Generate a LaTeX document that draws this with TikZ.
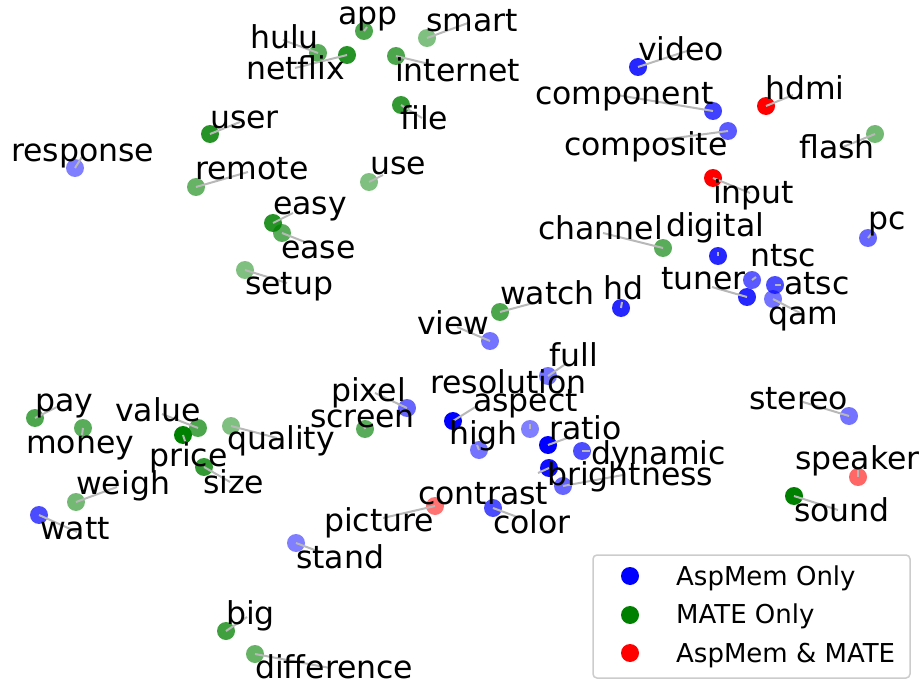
\documentclass[tikz,border=0pt]{standalone}
\usepackage{fontspec}
\setmainfont{DejaVu Sans}
\definecolor{B}{RGB}{0,0,255}
\definecolor{G}{RGB}{0,128,0}
\definecolor{R}{RGB}{255,0,0}
\pgfdeclarelayer{bg}
\pgfsetlayers{bg,main}
\tikzset{
  dot/.style={circle, inner sep=0pt, minimum size=18pt, draw=none},
  lbl/.style={anchor=base west, inner sep=0pt, xshift=-2pt, yshift=-1.5pt, font=\fontsize{31.5}{36}\selectfont},
  conn/.style={draw=black!28, line width=2pt},
  legbox/.style={draw=black!20, line width=1.5pt, rounded corners=4pt, fill=white, inner sep=0pt},
  legtext/.style={anchor=base west, inner sep=0pt, font=\fontsize{26}{30}\selectfont},
}
% name / dot x / dot y / colour / opacity / text x / text y / line end x / line end y
\def\pts{response/75/168/B/.5/13/160/82/157,
hulu/318/53/G/.65/252/47/283/40,
netflix/347/55/G/.85/248/78/295/68,
app/364/31/G/.7/340/23/367/27,
smart/427/38/G/.5/428/30/468/23,
internet/396/56/G/.7/397/80/433/65,
file/401/105/G/.8/402/128/422/118,
user/210/134/G/.85/212/127/240/122,
remote/196/187/G/.6/197/178/248/172,
use/369/182/G/.5/372/173/383/175,
easy/273/223/G/.85/275/213/293/213,
ease/282/233/G/.65/283/257/305/242,
setup/245/270/G/.5/247/293/287/283,
video/638/67/B/.85/640/59/690/50,
component/713/111/B/.75/537/103/617/95,
composite/728/131/B/.65/566/154/660/140,
hdmi/766/106/R/1/767/98/793/95,
flash/875/134/G/.55/801/157/843/147,
input/713/178/R/1/715/202/750/193,
pc/868/238/B/.6/870/228/872/233,
channel/663/248/G/.65/540/238/603/233,
digital/718/256/B/.85/668/235/718/252,
ntsc/752/280/B/.65/752/265/756/277,
atsc/775/285/B/.7/786/293/781/285,
tuner/747/297/B/.85/663/288/712/287,
qam/773/299/B/.55/770/323/800/313,
watch/500/312/G/.7/502/303/537/302,
hd/621/308/B/.85/605/298/622/302,
view/490/341/B/.55/419/333/457/327,
full/548/376/B/.55/551/365/567/363,
resolution/453/421/B/1/432/392/477/406,
aspect/530/429/B/.5/475/410/530/424,
pixel/407/408/B/.6/333/400/375/393,
screen/365/429/G/.65/312/426/364/425,
high/479/450/B/.55/451/443/477/445,
ratio/548/445/B/1/551/438/570/437,
dynamic/582/451/B/.7/593/463/590/451,
brightness/563/486/B/.6/549/484/623/475,
contrast/549/468/B/.95/420/503/538/473,
color/493/508/B/.7/495/532/520/518,
picture/435/506/R/.55/326/530/383/518,
stand/296/543/B/.5/298/567/320/552,
pay/35/418/G/.7/37/410/57/407,
money/83/428/G/.65/28/452/82/435,
value/198/428/G/.7/117/420/162/414,
price/183/435/G/1/151/465/185/441,
quality/231/426/G/.5/229/448/277/438,
size/204/467/G/.8/205/492/230/482,
weigh/76/502/G/.55/78/493/117/487,
watt/39/515/B/.7/42/538/77/532,
big/226/631/G/.75/228/623/247/617,
difference/255/654/G/.6/257/677/330/668,
stereo/849/416/B/.55/751/408/803/402,
speaker/858/477/R/.6/797/468/858/470,
sound/794/496/G/1/796/520/838/510}
\begin{document}
\begin{tikzpicture}[x=1pt,y=-1pt]
\useasboundingbox (0,0) rectangle (922,682);
\begin{pgfonlayer}{bg}
\foreach \n/\x/\y/\c/\o/\tx/\ty/\ex/\ey in \pts {
  \node[dot, fill=\c, fill opacity=\o] (d\n) at (\x,\y) {};
  \coordinate (e\n) at (\ex,\ey);
}
\foreach \n/\x/\y/\c/\o/\tx/\ty/\ex/\ey in \pts {
  \draw[conn] (d\n.center) -- (e\n);
}
\end{pgfonlayer}
\foreach \n/\x/\y/\c/\o/\tx/\ty/\ex/\ey in \pts {
  \node[lbl] (t\n) at (\tx,\ty) {\n};
}
% legend
\node[legbox, minimum width=317pt, minimum height=123pt] (legend) at (751.5,616.5) {};
\node[dot, fill=B] (lgb) at (630,576) {};
\node[dot, fill=G] (lgg) at (630,615) {};
\node[dot, fill=R] (lgr) at (630,653) {};
\node[legtext] (lgbt) at (676,585) {AspMem Only};
\node[legtext] (lggt) at (676,623) {MATE Only};
\node[legtext] (lgrt) at (676,662) {AspMem \& MATE};
\end{tikzpicture}
\end{document}
